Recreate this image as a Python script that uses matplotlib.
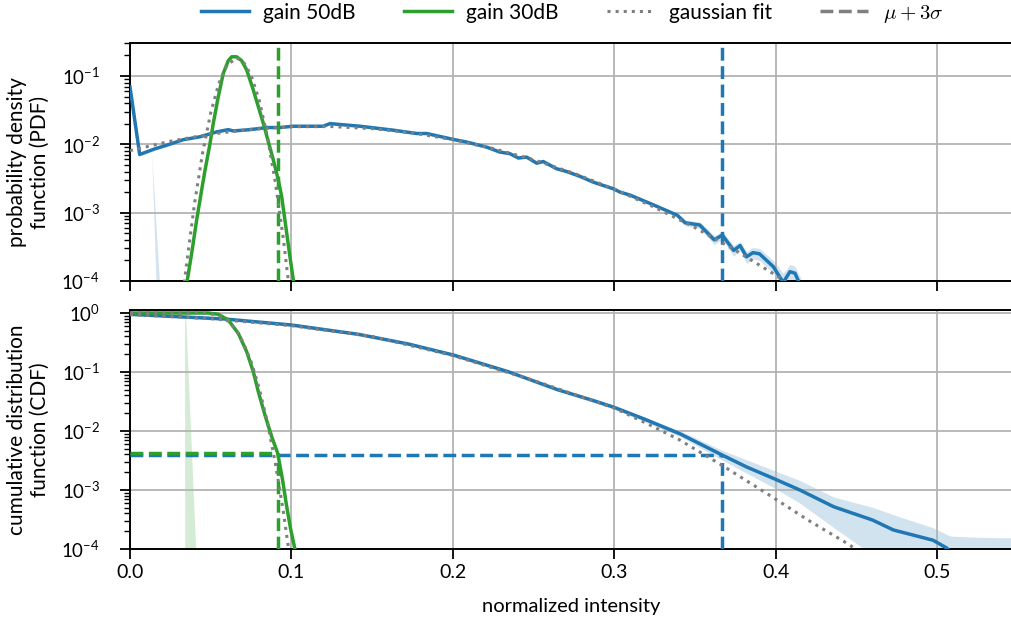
import matplotlib.pyplot as plt
from matplotlib.lines import Line2D

plt.rcParams['font.family'] = ['Lato', 'DejaVu Sans']
plt.rcParams['mathtext.fontset'] = 'cm'

BLUE = '#1f77b4'
GREEN = '#2ca02c'
GRAY = '#7f7f7f'

# ---- gain 50dB : density ----
pdf50_x = [0.0, 0.006, 0.0155, 0.0227, 0.033, 0.0434, 0.0537, 0.0609, 0.064, 0.0743,
           0.0847, 0.0929, 0.101, 0.1135, 0.1197, 0.1239, 0.1425, 0.1632, 0.1776, 0.1838,
           0.2003, 0.2086, 0.221, 0.2292, 0.2354, 0.2406, 0.2457, 0.252, 0.256, 0.2643,
           0.2705, 0.2788, 0.287, 0.2932, 0.2994, 0.3036, 0.31, 0.322, 0.339, 0.344,
           0.353, 0.362, 0.367, 0.374, 0.378, 0.382, 0.386, 0.39, 0.3986, 0.4047,
           0.4089, 0.412, 0.416]
pdf50_y = [0.069, 0.0071, 0.0086, 0.0097, 0.0117, 0.0129, 0.0152, 0.0164, 0.0157, 0.0164,
           0.0176, 0.0176, 0.0184, 0.0184, 0.0184, 0.0201, 0.0184, 0.0161, 0.0144, 0.0144,
           0.0118, 0.0108, 0.0091, 0.0077, 0.0073, 0.0063, 0.0065, 0.0053, 0.0056, 0.0044,
           0.0040, 0.0034, 0.0028, 0.0025, 0.00224, 0.0020, 0.0018, 0.00137, 0.00092, 0.00071,
           0.00066, 0.00040, 0.00047, 0.00028, 0.00033, 0.000226, 0.00026, 0.00025, 0.000162, 0.000095,
           0.000137, 0.00013, 0.00008]

# spread of the density estimate (only where it shows)
pdf50_band1_x = [0.0134, 0.0161, 0.0182, 0.0200]
pdf50_band1_lo = [0.0075, 0.0001, 0.00001, 0.000001]
pdf50_band1_hi = [0.0075, 0.00066, 0.0001, 0.00001]
pdf50_band2_x = [0.339, 0.344, 0.353, 0.362, 0.367, 0.374, 0.378, 0.382, 0.386, 0.39,
                 0.3986, 0.4047, 0.4089, 0.412, 0.416, 0.421, 0.426]
pdf50_band2_lo = [0.00084, 0.00064, 0.00059, 0.00034, 0.00041, 0.00023, 0.00028, 0.00018, 0.00021, 0.00020,
                  0.00013, 0.00008, 0.00010, 0.000095, 0.00006, 0.00003, 0.00003]
pdf50_band2_hi = [0.00100, 0.00078, 0.00073, 0.00046, 0.00053, 0.00033, 0.00038, 0.00027, 0.00031, 0.00030,
                  0.00020, 0.00013, 0.000175, 0.000165, 0.000105, 0.00009, 0.000105]

pdf50_fit_x = [0.0, 0.025, 0.05, 0.075, 0.10, 0.125, 0.15, 0.175, 0.20, 0.225,
               0.25, 0.275, 0.30, 0.325, 0.35, 0.375, 0.40, 0.425]
pdf50_fit_y = [0.0081, 0.0111, 0.0141, 0.0166, 0.0181, 0.0182, 0.0170, 0.0147, 0.0117, 0.00867,
               0.00595, 0.00377, 0.00221, 0.00120, 0.000606, 0.000282, 0.000122, 0.0000487]

# ---- gain 30dB : density ----
pdf30_x = [0.0345, 0.0355, 0.0382, 0.0413, 0.0444, 0.0465, 0.0496, 0.0516, 0.0547, 0.0578,
           0.0609, 0.063, 0.0661, 0.0692, 0.0723, 0.0764, 0.0795, 0.0826, 0.0857, 0.0888,
           0.0919, 0.094, 0.0971, 0.0991, 0.1012, 0.102]
pdf30_y = [0.00007, 0.000103, 0.000254, 0.00078, 0.00215, 0.0042, 0.01035, 0.0203, 0.0498, 0.1096,
           0.1676, 0.191, 0.191, 0.1676, 0.1225, 0.0624, 0.0356, 0.0203, 0.01094, 0.0059,
           0.0030, 0.00171, 0.0005, 0.000227, 0.000103, 0.00008]

pdf30_fit_x = [0.032, 0.035, 0.040, 0.045, 0.050, 0.055, 0.060, 0.066, 0.070, 0.075,
               0.080, 0.085, 0.090, 0.095, 0.100]
pdf30_fit_y = [0.000042, 0.000174, 0.00137, 0.00755, 0.0289, 0.0769, 0.1425, 0.185, 0.165, 0.1028,
               0.0447, 0.0135, 0.00284, 0.000415, 0.000042]

# ---- complementary cumulative distribution ----
cdf50_x = [0.0, 0.0589, 0.1, 0.1415, 0.1725, 0.2003, 0.2138, 0.2344, 0.2654, 0.286,
           0.3001, 0.319, 0.341, 0.367, 0.382, 0.398, 0.415, 0.436, 0.46, 0.473,
           0.4975, 0.506, 0.512]
cdf50_y = [0.95, 0.79, 0.626, 0.435, 0.298, 0.194, 0.150, 0.101, 0.0496, 0.0335,
           0.0251, 0.0158, 0.0089, 0.0039, 0.00246, 0.0016, 0.0010, 0.00052, 0.00031, 0.00021,
           0.000141, 0.000104, 0.00007]

cdf50_band_x = [0.28, 0.30, 0.341, 0.367, 0.398, 0.415, 0.436, 0.46, 0.477, 0.4975,
                0.508, 0.52, 0.539, 0.55]
cdf50_band_lo = [0.036, 0.0235, 0.0080, 0.0032, 0.00113, 0.0006, 0.00023, 0.00008, 0.00004, 0.00001,
                 0.00001, 0.00001, 0.00001, 0.00001]
cdf50_band_hi = [0.040, 0.027, 0.0100, 0.0047, 0.0022, 0.00145, 0.00076, 0.00051, 0.00035, 0.00023,
                 0.000166, 0.00016, 0.000155, 0.000155]

cdf50_fit_x = [0.0, 0.05, 0.10, 0.15, 0.20, 0.25, 0.30, 0.32, 0.34, 0.367,
               0.398, 0.42, 0.444, 0.46]
cdf50_fit_y = [0.94, 0.80, 0.61, 0.40, 0.19, 0.072, 0.0245, 0.0135, 0.0072, 0.0026,
               0.00076, 0.00031, 0.000126, 0.000065]

cdf30_x = [0.0, 0.0485, 0.0547, 0.0609, 0.0671, 0.0723, 0.0764, 0.0795, 0.0836, 0.0878,
           0.0915, 0.0945, 0.0971, 0.0995, 0.102, 0.103]
cdf30_y = [1.0, 1.0, 0.95, 0.76, 0.452, 0.221, 0.101, 0.0464, 0.0187, 0.0080,
           0.0042, 0.0015, 0.00052, 0.00022, 0.000105, 0.00008]

cdf30_band_x = [0.0338, 0.0340, 0.0344, 0.047]
cdf30_band_lo = [0.995, 1e-8, 1e-8, 1e-8]
cdf30_band_hi = [1.0, 1.0, 1.0, 1e-8]

cdf30_fit_x = [0.0, 0.045, 0.05, 0.055, 0.06, 0.065, 0.07, 0.075, 0.08, 0.085,
               0.09, 0.095, 0.10]
cdf30_fit_y = [1.0, 0.992, 0.967, 0.897, 0.755, 0.546, 0.323, 0.1505, 0.0538, 0.01448,
               0.0029, 0.00043, 0.0000465]

# mu + 3 sigma and the tail mass beyond it
thr50, tail50 = 0.367, 0.0039
thr30, tail30 = 0.0915, 0.0042

LW = 2.5

fig = plt.figure(figsize=(10.12, 6.21), dpi=100)
left = 130 / 1012
ax_pdf = fig.add_axes([left, 1 - 281 / 621, 1 - left, 238 / 621])
ax_cdf = fig.add_axes([left, 1 - 549 / 621, 1 - left, 239 / 621], sharex=ax_pdf)

for ax in (ax_pdf, ax_cdf):
    ax.set_yscale('log')
    ax.grid(True, which='major', color='#b3b3b3', lw=1.3, zorder=0)
    ax.spines['right'].set_visible(False)
    for s in ('left', 'bottom', 'top'):
        ax.spines[s].set_linewidth(1.4)
    ax.tick_params(which='major', direction='out', length=7.5, width=1.3, labelsize=14)
    ax.tick_params(which='minor', direction='out', length=4, width=1.0)
    ax.tick_params(axis='y', which='major', labelsize=13.5, pad=14)

# density panel
ax_pdf.fill_between(pdf50_band1_x, pdf50_band1_lo, pdf50_band1_hi, color=BLUE, alpha=0.2, lw=0)
ax_pdf.fill_between(pdf50_band2_x, pdf50_band2_lo, pdf50_band2_hi, color=BLUE, alpha=0.2, lw=0)
ax_pdf.plot(pdf50_x, pdf50_y, color=BLUE, lw=LW, zorder=3)
ax_pdf.plot(pdf30_x, pdf30_y, color=GREEN, lw=LW, zorder=3)
ax_pdf.plot(pdf50_fit_x, pdf50_fit_y, color=GRAY, lw=2.2, ls=':', zorder=4)
ax_pdf.plot(pdf30_fit_x, pdf30_fit_y, color=GRAY, lw=2.2, ls=':', zorder=4)
ax_pdf.axvline(thr50, color=BLUE, lw=LW, ls='--', zorder=3)
ax_pdf.axvline(thr30, color=GREEN, lw=LW, ls='--', zorder=3)
ax_pdf.set_ylim(1e-4, 0.304)
ax_pdf.tick_params(labelbottom=False)
ax_pdf.set_ylabel('probability density\nfunction (PDF)', fontsize=15, labelpad=8)

# cumulative panel
ymin_cdf = 1e-4
ax_cdf.fill_between(cdf30_band_x, cdf30_band_lo, cdf30_band_hi, color=GREEN, alpha=0.2, lw=0)
ax_cdf.fill_between(cdf50_band_x, cdf50_band_lo, cdf50_band_hi, color=BLUE, alpha=0.2, lw=0)
ax_cdf.plot(cdf50_x, cdf50_y, color=BLUE, lw=LW, zorder=3)
ax_cdf.plot(cdf30_x, cdf30_y, color=GREEN, lw=LW, zorder=3)
ax_cdf.plot(cdf50_fit_x, cdf50_fit_y, color=GRAY, lw=2.2, ls=':', zorder=4)
ax_cdf.plot(cdf30_fit_x, cdf30_fit_y, color=GRAY, lw=2.2, ls=':', zorder=4)
ax_cdf.plot([thr50, thr50], [ymin_cdf, tail50], color=BLUE, lw=LW, ls='--', zorder=3)
ax_cdf.plot([0, thr50], [tail50, tail50], color=BLUE, lw=LW, ls='--', zorder=3)
ax_cdf.plot([thr30, thr30], [ymin_cdf, tail30], color=GREEN, lw=LW, ls='--', zorder=3)
ax_cdf.plot([0, thr30], [tail30, tail30], color=GREEN, lw=LW, ls='--', zorder=3)
ax_cdf.set_ylim(ymin_cdf, 1.124)
ax_cdf.set_ylabel('cumulative distribution\nfunction (CDF)', fontsize=15, labelpad=8)
ax_cdf.set_xlabel('normalized intensity', fontsize=14.5, labelpad=12)

ax_cdf.set_xlim(0, (1012 - 130) / 1614)
ax_cdf.set_xticks([0.0, 0.1, 0.2, 0.3, 0.4, 0.5])

handles = [
    Line2D([], [], color=BLUE, lw=LW),
    Line2D([], [], color=GREEN, lw=LW),
    Line2D([], [], color=GRAY, lw=2.2, ls=':'),
    Line2D([], [], color=GRAY, lw=LW, ls='--'),
]
labels = ['gain 50dB', 'gain 30dB', 'gaussian fit', r'$\mu + 3\sigma$']
fig.legend(handles, labels, loc='center', bbox_to_anchor=(0.565, 0.978), ncol=4,
           frameon=False, fontsize=15, handlelength=2.3, handletextpad=0.7,
           columnspacing=2.3)

fig.savefig('out.png', dpi=100)
